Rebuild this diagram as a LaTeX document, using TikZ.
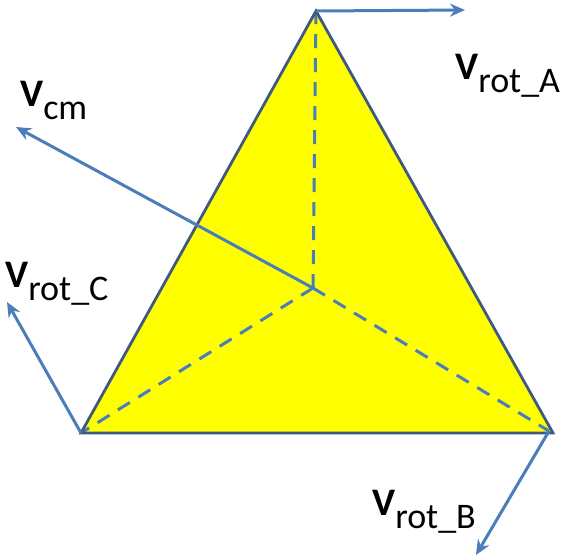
\documentclass[tikz,border=0pt]{standalone}
\usepackage{fontspec}
\setmainfont{Carlito}
\usetikzlibrary{arrows.meta}
\definecolor{edge}{HTML}{3F5A7E}
\definecolor{arr}{HTML}{4A7EBB}
\definecolor{fillY}{HTML}{FFFF00}
\tikzset{
  vec/.style={draw=arr, line width=3pt, -{Stealth[length=15pt,width=13pt,inset=5pt]}},
  dash line/.style={draw=arr, line width=3pt, dash pattern=on 14pt off 10pt},
  lbl/.style={anchor=base west, inner sep=0pt, text=black},
}
\newcommand{\vlab}[1]{{\fontsize{39}{39}\selectfont\bfseries V}\raisebox{-13pt}{\fontsize{36}{36}\selectfont #1}}
\begin{document}
\begin{tikzpicture}[x=1pt,y=-1pt]
\useasboundingbox (0,0) rectangle (567,558);
\coordinate (A) at (316,11);
\coordinate (C) at (81,433);
\coordinate (B) at (553,433);
\coordinate (O) at (313,288);
\coordinate (Btail) at (549,431);
\coordinate (Atip) at (465,10);
\coordinate (Ctip) at (7,302);
\coordinate (Btip) at (476,555);
\coordinate (Otip) at (16,127);
\fill[fillY] (A) -- (B) -- (C) -- cycle;
\draw[dash line] (O) -- (A);
\draw[dash line] (O) -- (C);
\draw[dash line] (O) -- (Btail);
\draw[edge, line width=2.8pt, line join=miter] (A) -- (B) -- (C) -- cycle;
\draw[vec] (A) -- (Atip);
\draw[vec] (C) -- (Ctip);
\draw[vec] (Btail) -- (Btip);
\draw[vec] (O) -- (Otip);
\node[lbl] (la) at (455,79) {\vlab{rot\_A}};
\node[lbl] (lcm) at (20,106) {\vlab{cm}};
\node[lbl] (lc) at (5,287) {\vlab{rot\_C}};
\node[lbl] (lb) at (372,515) {\vlab{rot\_B}};
\end{tikzpicture}
\end{document}
